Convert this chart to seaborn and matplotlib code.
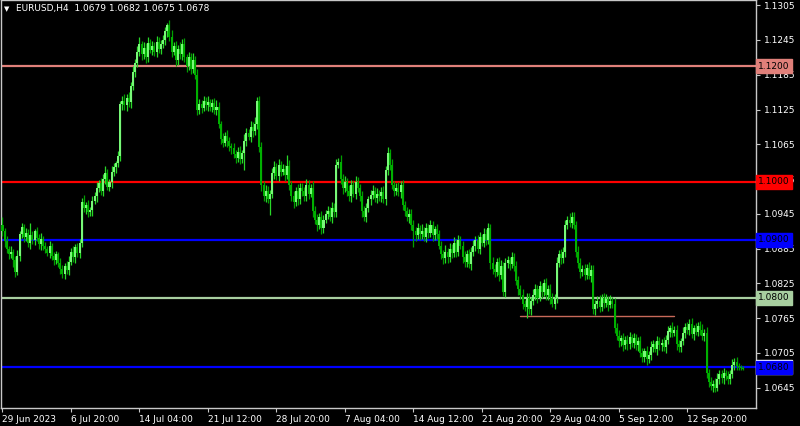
import numpy as np
import pandas as pd
import matplotlib
matplotlib.use("Agg")
import matplotlib.pyplot as plt
import matplotlib.transforms as mtransforms
import seaborn as sns

# ---------------- data (prices in pips above 1.0000) ----------------
first_open = 925
closes = [
    915, 898, 884, 876, 880, 866, 845, 872, 910, 922,
    905, 912, 895, 908, 900, 915, 904, 893, 902, 890,
    885, 878, 890, 872, 866, 875, 860, 850, 842, 855,
    848, 862, 880, 870, 888, 878, 895,
    965, 955, 960, 948, 952, 968, 975,
    990, 998, 985,
    1005, 1015, 992, 1000, 1018,
    1025, 1032, 1045,
    1134,
    1140, 1132, 1145, 1138,
    1165, 1190, 1205,
    1225, 1238, 1220, 1232, 1215, 1240, 1228, 1235, 1225, 1242, 1230, 1238, 1245,
    1260, 1270, 1250,
    1225, 1235, 1210, 1230, 1220, 1238, 1215,
    1200, 1215, 1195, 1210, 1185,
    1125,
    1135, 1128, 1140, 1132, 1138, 1130, 1136, 1125, 1130,
    1100, 1075, 1068, 1080, 1070, 1062, 1058,
    1048, 1042, 1052, 1040, 1050,
    1070, 1085, 1078, 1095, 1088, 1100,
    1140,
    1060, 995,
    975, 985, 970, 980,
    1015, 1025, 1010, 1030, 1018, 1022, 1012, 1028,
    995, 975, 965, 985, 970, 990,
    985, 975, 995, 980, 990,
    950, 935, 925, 940, 920, 935,
    945, 950, 940, 955, 948,
    1030, 1035,
    1005, 990, 1000, 985, 975, 995, 980, 1000, 990, 975,
    950, 940, 955,
    970, 978, 985, 972, 980, 975, 983, 970,
    1020, 1050, 1030,
    995, 985, 990, 982, 995,
    960, 950, 940, 945, 925,
    915, 908, 920, 910, 915,
    905, 920, 912, 925, 908, 918, 910,
    890, 875, 868, 880, 870,
    885, 878, 895, 880, 900, 890,
    870, 862, 875, 858, 880,
    890, 900, 885, 905, 895, 910, 900, 920,
    860, 850, 845, 862, 840, 855,
    810, 860,
    865, 858, 870, 855,
    830, 815, 805,
    790, 785, 800, 780, 795,
    805, 815, 800, 820, 810, 825, 805, 815, 800,
    790, 800,
    860, 875, 868, 880,
    925, 935, 930, 940, 925,
    880, 860,
    845, 850, 840, 852, 838, 848,
    780,
    790, 795, 785, 800, 792, 798, 788, 795,
    790, 748,
    735, 725, 730, 718, 728, 720, 732, 722, 730, 718, 725,
    705, 698, 708, 695, 702,
    715, 720, 712, 725, 718, 722, 715, 728,
    742, 748, 740, 745,
    720, 715, 725,
    740, 750, 745, 755, 738, 748, 742, 752, 745, 735, 740,
    670,
    655, 648, 652, 645,
    660, 668, 662, 670, 665, 660, 668,
    685, 690, 682,
    680, 679, 678,
]
upper_wick = [
    15, 6, 8, 5, 9, 4, 7, 10, 6, 8,
    5, 9, 6, 22, 7, 4, 8, 6, 10, 5,
    7, 5, 9, 4, 8, 6, 5, 9, 7, 6,
    8, 10, 6, 9, 5, 7, 6, 8, 12, 6,
    9, 5, 8, 7, 10, 6, 9, 8, 12, 7,
    6, 9, 7, 5, 8, 6, 9, 12, 7, 10,
    8, 10, 7, 9, 12, 6, 10, 8, 11, 7,
    9, 6, 10, 8, 7, 9, 8, 4, 10, 12,
    7, 9, 6, 11, 8, 10, 6, 9, 8, 12,
    7, 10, 8, 6, 9, 7, 10, 6, 8, 9,
    12, 8, 6, 9, 7, 10, 8, 6, 9, 7,
    8, 10, 6, 12, 9, 7, 10, 8, 12, 6,
    8, 9, 7, 10, 8, 6, 9, 12, 8, 10,
    7, 9, 8, 19, 10, 7, 9, 6, 11, 8,
    9, 7, 10, 8, 6, 12, 8, 9, 7, 10,
    8, 6, 9, 7, 10, 8, 9, 6, 12, 8,
    10, 7, 9, 8, 6, 11, 9, 7, 10, 8,
    9, 6, 8, 10, 7, 9, 6, 8, 10, 8,
    10, 7, 9, 6, 8, 10, 7, 9, 8, 6,
    9, 8, 10, 7, 9, 6, 12, 8, 10, 7,
    9, 8, 6, 10, 7, 9, 8, 12, 6, 9,
    8, 10, 7, 9, 6, 8, 11, 7, 9, 8,
    10, 7, 9, 8, 6, 10, 8, 9, 7, 11,
    8, 6, 9, 10, 7, 9, 8, 6, 10, 8,
    9, 7, 8, 10, 6, 9, 8, 7, 10, 9,
    7, 9, 6, 8, 10, 7, 9, 8, 6, 10,
    8, 9, 7, 10, 6, 11, 8, 9, 7, 10,
    8, 6, 9, 7, 10, 8, 9, 6, 8, 10,
    7, 9, 8, 6, 10, 7, 9, 8, 10, 6,
    9, 7, 8, 10, 6, 9, 8, 7, 10, 8,
    6, 9, 7, 10, 8, 6, 9, 8, 7, 10,
    8, 9, 6, 10, 7, 9, 8, 6, 10, 7,
    9, 8, 10, 6, 9, 7, 8, 10, 6, 9,
    7, 8, 6, 9, 10, 7, 8, 9, 6, 8,
    7, 9, 6, 8, 5, 4, 3,
]
lower_wick = [
    8, 10, 6, 9, 7, 12, 9, 6, 8, 7,
    9, 6, 8, 10, 7, 9, 6, 8, 10, 7,
    8, 6, 9, 7, 10, 8, 6, 9, 8, 10,
    7, 9, 6, 8, 10, 7, 9, 8, 6, 10,
    8, 7, 10, 6, 9, 8, 7, 10, 9, 6,
    8, 10, 7, 9, 6, 8, 10, 7, 9, 8,
    10, 7, 9, 6, 8, 10, 7, 9, 8, 6,
    9, 8, 10, 7, 9, 6, 8, 10, 7, 9,
    6, 10, 8, 7, 9, 8, 10, 6, 9, 7,
    8, 10, 7, 9, 6, 8, 10, 7, 9, 8,
    10, 7, 9, 8, 6, 10, 8, 9, 7, 10,
    8, 9, 7, 29, 8, 6, 9, 10, 7, 9,
    8, 10, 7, 9, 6, 27, 8, 10, 7, 9,
    8, 6, 10, 7, 9, 8, 10, 7, 9, 8,
    10, 8, 7, 9, 6, 10, 8, 9, 7, 10,
    8, 6, 9, 7, 10, 8, 9, 6, 8, 10,
    7, 9, 8, 10, 6, 9, 8, 7, 10, 8,
    9, 7, 10, 8, 6, 9, 8, 10, 7, 9,
    8, 10, 7, 9, 8, 6, 10, 8, 9, 7,
    10, 8, 28, 9, 7, 10, 8, 6, 9, 8,
    7, 10, 8, 9, 6, 8, 10, 7, 9, 8,
    10, 7, 9, 8, 6, 10, 8, 9, 7, 10,
    8, 9, 7, 10, 6, 8, 9, 7, 10, 8,
    9, 7, 10, 8, 6, 9, 8, 10, 7, 9,
    8, 10, 7, 9, 8, 19, 8, 10, 7, 9,
    8, 6, 10, 7, 9, 8, 10, 6, 9, 8,
    7, 10, 8, 9, 6, 8, 10, 7, 9, 8,
    10, 7, 9, 8, 6, 10, 8, 9, 7, 10,
    8, 9, 7, 10, 6, 8, 9, 7, 10, 8,
    9, 7, 10, 8, 6, 9, 8, 10, 7, 9,
    8, 10, 7, 9, 8, 6, 10, 8, 9, 7,
    10, 8, 9, 7, 6, 10, 8, 9, 7, 10,
    8, 9, 7, 10, 6, 8, 9, 7, 10, 8,
    9, 7, 10, 8, 6, 9, 8, 10, 7, 9,
    8, 6, 9, 7, 5, 4, 3,
]

date_labels = ["29 Jun 2023", "6 Jul 20:00", "14 Jul 04:00", "21 Jul 12:00",
               "28 Jul 20:00", "7 Aug 04:00", "14 Aug 12:00", "21 Aug 20:00",
               "29 Aug 04:00", "5 Sep 12:00", "12 Sep 20:00"]
label_bars = [0, 32, 64, 96, 128, 160, 192, 224, 256, 288, 320]

y_ticks = [1.0645, 1.0705, 1.0765, 1.0825, 1.0885, 1.0945, 1.1005,
           1.1065, 1.1125, 1.1185, 1.1245, 1.1305]

levels = [1.1200, 1.1000, 1.0900, 1.0800, 1.0680]
level_colors = ["#E0807A", "#FF0000", "#0000FF", "#A8CFA0", "#0000FF"]
level_text = ["1.1200", "1.1000", "1.0900", "1.0800", "1.0680"]

segment_bars = [242, 314]
segment_price = 1.0769

title = "EURUSD,H4  1.0679 1.0682 1.0675 1.0678"

# ---------------- build OHLC ----------------
n = len(closes)
c = np.array(closes, dtype=float)
o = np.array([first_open] + closes[:-1], dtype=float)
hi = np.maximum(o, c) + np.array(upper_wick[:n], dtype=float)
lo = np.minimum(o, c) - np.array(lower_wick[:n], dtype=float)
df = pd.DataFrame({"bar": np.arange(n),
                   "open": 1 + o / 10000, "high": 1 + hi / 10000,
                   "low": 1 + lo / 10000, "close": 1 + c / 10000})
df["up"] = df["close"] >= df["open"]

# ---------------- style ----------------
sns.set_theme(style="dark", rc={"axes.facecolor": "black",
                                "figure.facecolor": "black",
                                "savefig.facecolor": "black"})
plt.rcParams["font.family"] = ["DejaVu Sans"]

fig = plt.figure(figsize=(8, 4.26), dpi=100)
ax = fig.add_axes([1 / 800, 18 / 426, 755 / 800, 408 / 426])
ax.set_facecolor("black")

up_body, up_wick = "#78F878", "#28D828"
dn_body, dn_wick = "#00B000", "#00A000"

wcol = np.where(df["up"], up_wick, dn_wick)
bcol = np.where(df["up"], up_body, dn_body)
ax.vlines(df["bar"], df["low"], df["high"], colors=wcol, linewidth=0.9, zorder=3)
body_h = (df["close"] - df["open"]).abs().clip(lower=0.00003)
ax.bar(df["bar"], body_h, bottom=np.minimum(df["open"], df["close"]),
       width=0.95, color=bcol, linewidth=0, zorder=4)

# levels
for lv, col in zip(levels, level_colors):
    ax.axhline(lv, color=col, linewidth=1.6, zorder=2)
ax.plot(segment_bars, [segment_price, segment_price], color="#C86A5A",
        linewidth=1.0, zorder=2)

xmin = -0.7
ax.set_xlim(xmin, xmin + 755 / 2.14)
ax.set_ylim(1.0610, 1.1314)

# axes frame
for side in ["left", "bottom", "right", "top"]:
    ax.spines[side].set_visible(True)
    ax.spines[side].set_color("#C8C8C8")
    ax.spines[side].set_linewidth(1.0)
ax.grid(False)

ax.yaxis.tick_right()
ax.set_yticks(y_ticks)
ax.set_yticklabels([f"{v:.4f}" for v in y_ticks])
ax.tick_params(axis="y", colors="#C8C8C8", labelcolor="white", length=3,
               width=0.8, pad=3, labelsize=6.5, direction="out", right=True, left=False)

ax.set_xticks(label_bars)
ax.set_xticklabels(date_labels)
ax.tick_params(axis="x", colors="#C8C8C8", labelcolor="white", length=3,
               width=0.8, pad=2, labelsize=6.5, direction="out", bottom=True)
for lab in ax.get_xticklabels():
    lab.set_horizontalalignment("left")

# level price boxes on the right axis
trans = mtransforms.blended_transform_factory(ax.transAxes, ax.transData)
# bid marker behind the 1.0680 box
ax.text(1.003, 1.0678 + 0.00025, "1.0678", transform=trans, fontsize=6.5,
        va="center", ha="left", color="black", clip_on=False, zorder=5,
        bbox=dict(boxstyle="square,pad=0.25", fc="white", ec="white"))
for lv, col, txt in zip(levels, level_colors, level_text):
    ax.text(1.003, lv, txt, transform=trans, fontsize=6.5, va="center",
            ha="left", color="black", clip_on=False, zorder=6,
            bbox=dict(boxstyle="square,pad=0.25", fc=col, ec=col))

# title
fig.text(4 / 800, 1 - 9 / 426, "\u25BC", color="white", fontsize=5,
         va="center", ha="left")
fig.text(16 / 800, 1 - 9 / 426, title, color="white", fontsize=6.5,
         va="center", ha="left")

fig.savefig("out.png", dpi=100, facecolor="black")
